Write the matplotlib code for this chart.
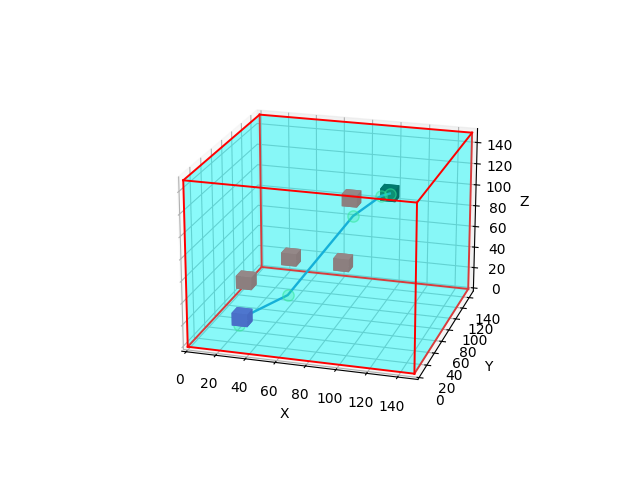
import numpy as np
import matplotlib
matplotlib.use('Agg')
import matplotlib.pyplot as plt

# size of the space
space_x = 150
space_y = 150
space_z = 150

# obstacle centres: x, y, z
obstacles = [[30, 30, 50], [46, 75, 52], [82, 75, 52], [79, 105, 98]]
obstacle_size = 10.5

start = [32, 15, 24]
goal = [100, 125, 97]

path_x = [32, 58, 74, 90, 98, 100]
path_y = [15, 30, 50, 70, 110, 125]
path_z = [24, 41, 70, 99, 101, 97]

waypoints_x = [30, 58, 90, 98, 100]
waypoints_y = [15, 30, 70, 110, 125]
waypoints_z = [17, 41, 99, 101, 97]


def cube(ax, pos, size, top, front, side, z):
    x, y, zz = pos
    h = size / 2
    # face order in bar3d: bottom, top, front, back, left, right
    colors = [side, top, front, front, side, side]
    ax.bar3d(x - h, y - h, zz - h, size, size, size * 1.1, color=colors, shade=False, zorder=z)


def space_faces(ax):
    xx, yy = np.meshgrid([0, space_x], [0, space_y])
    zz = np.array([[0, 0], [0, 0]])
    face = 'cyan'
    for z in [0, space_z]:
        ax.plot_surface(xx, yy, zz + z, color=face, alpha=0.25, shade=False, zorder=2)
    for x in [0, space_x]:
        ax.plot_surface(zz + x, *np.meshgrid([0, space_y], [0, space_z]), color=face, alpha=0.25, shade=False, zorder=2)
    for y in [0, space_y]:
        a, b = np.meshgrid([0, space_x], [0, space_z])
        ax.plot_surface(a, zz + y, b, color=face, alpha=0.25, shade=False, zorder=2)


def space_edges(ax):
    sx, sy, sz = space_x, space_y, space_z
    # floor and back edges look dimmer, front edges go over everything
    back = [([0, sx], [sy, sy], [0, 0]), ([0, 0], [0, sy], [0, 0]), ([sx, sx], [0, sy], [0, 0]),
            ([0, 0], [sy, sy], [0, sz]), ([sx, sx], [sy, sy], [0, sz])]
    front = [([0, sx], [0, 0], [0, 0]), ([0, sx], [sy, sy], [sz, sz]), ([0, sx], [0, 0], [sz, sz]),
             ([0, 0], [0, sy], [sz, sz]), ([sx, sx], [0, sy], [sz, sz]),
             ([0, 0], [0, 0], [0, sz]), ([sx, sx], [0, 0], [0, sz])]
    for xs, ys, zs in back:
        ax.plot(xs, ys, zs, color='#d83c3c', lw=1.4, zorder=3)
    for xs, ys, zs in front:
        ax.plot(xs, ys, zs, color='red', lw=1.4, zorder=10)


fig = plt.figure(figsize=(6.4, 4.8), dpi=100)
ax = fig.add_subplot(111, projection='3d', computed_zorder=False)

space_faces(ax)
space_edges(ax)

for ob in obstacles:
    cube(ax, ob, obstacle_size, '#948888', '#8c7f7f', '#877a7a', 4)
cube(ax, start, obstacle_size, '#4e76ce', '#4a70c8', '#466ac2', 6)
cube(ax, goal, obstacle_size, '#007a6e', '#00746a', '#006e64', 4)

ax.plot(path_x, path_y, path_z, color='#15b0d8', lw=1.7, zorder=5)
ax.scatter(waypoints_x, waypoints_y, waypoints_z, s=65, facecolors=(0.2, 0.9, 0.6, 0.25),
           edgecolors=(0.2, 0.9, 0.6, 0.55), depthshade=False, zorder=5)

ax.set_xlim(-3, space_x + 3)
ax.set_ylim(-3, space_y + 3)
ax.set_zlim(-3, space_z + 3)
ax.set_xticks(range(0, 160, 20))
ax.set_yticks(range(0, 160, 20))
ax.set_zticks(range(0, 160, 20))
ax.set_xlabel('X')
ax.set_ylabel('Y')
ax.set_zlabel('Z')
ax.view_init(elev=20, azim=-73.5)

plt.savefig('out.png')
